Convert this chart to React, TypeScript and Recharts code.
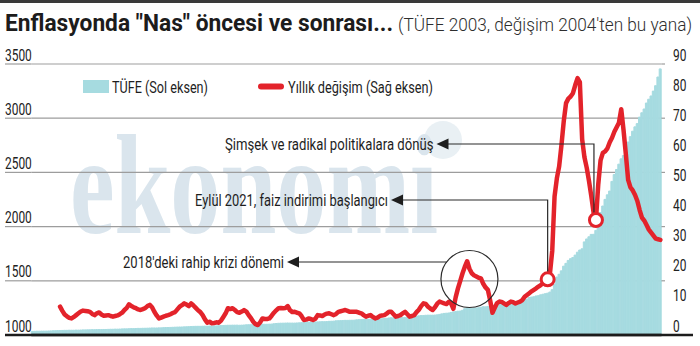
import { ComposedChart, Bar, Line, XAxis, YAxis, CartesianGrid, ReferenceDot } from "recharts";

// TÜFE (2003=100), monthly from Jan 2003 to Oct 2025
const tufe = [
  1033, 1034, 1035, 1035, 1036, 1036, 1036, 1037, 1038, 1039, 1040, 1041, // 2003
  1041, 1042, 1043, 1043, 1044, 1044, 1044, 1045, 1045, 1046, 1047, 1047, // 2004
  1048, 1048, 1049, 1049, 1050, 1050, 1050, 1051, 1051, 1052, 1053, 1053, // 2005
  1054, 1054, 1055, 1056, 1057, 1057, 1058, 1059, 1059, 1060, 1061, 1061, // 2006
  1062, 1062, 1063, 1064, 1065, 1065, 1065, 1066, 1066, 1068, 1069, 1069, // 2007
  1070, 1071, 1072, 1073, 1074, 1074, 1075, 1076, 1077, 1078, 1079, 1080, // 2008
  1080, 1080, 1081, 1082, 1082, 1083, 1083, 1083, 1084, 1086, 1087, 1087, // 2009
  1089, 1090, 1090, 1091, 1091, 1091, 1090, 1091, 1092, 1094, 1095, 1095, // 2010
  1096, 1096, 1096, 1097, 1100, 1099, 1099, 1100, 1101, 1104, 1106, 1108, // 2011
  1109, 1109, 1110, 1111, 1110, 1110, 1110, 1111, 1112, 1114, 1115, 1117, // 2012
  1119, 1119, 1120, 1120, 1121, 1122, 1123, 1123, 1124, 1126, 1127, 1128, // 2013
  1131, 1132, 1133, 1134, 1135, 1135, 1136, 1136, 1137, 1140, 1141, 1142, // 2014
  1144, 1145, 1146, 1147, 1148, 1148, 1148, 1149, 1150, 1152, 1154, 1157, // 2015
  1159, 1158, 1158, 1159, 1160, 1161, 1162, 1162, 1163, 1164, 1167, 1174, // 2016
  1177, 1179, 1180, 1182, 1183, 1183, 1183, 1184, 1186, 1190, 1195, 1199, // 2017
  1201, 1203, 1208, 1213, 1216, 1220, 1221, 1228, 1243, 1251, 1247, 1246, // 2018
  1249, 1249, 1252, 1256, 1261, 1260, 1263, 1267, 1270, 1276, 1277, 1280, // 2019
  1288, 1290, 1292, 1294, 1298, 1302, 1306, 1309, 1313, 1320, 1328, 1331, // 2020
  1346, 1350, 1353, 1360, 1363, 1371, 1376, 1381, 1386, 1396, 1418, 1470, // 2021
  1535, 1560, 1592, 1635, 1661, 1688, 1704, 1715, 1737, 1764, 1784, 1795, // 2022
  1859, 1886, 1906, 1928, 1929, 1965, 2040, 2130, 2190, 2251, 2293, 2328, // 2023
  2417, 2480, 2527, 2576, 2625, 2656, 2730, 2780, 2830, 2880, 2920, 2950, // 2024
  3010, 3050, 3085, 3140, 3175, 3205, 3250, 3300, 3380, 3455, // 2025
];

// yıllık değişim %, right axis, monthly from Jan 2004
const yillikDegisim = [
  9.4, 8.0, 6.8, 6.2, 5.7, 5.5, 6.0, 6.6, 7.2, 7.8, 8.1, 8.0, // 2004
  7.9, 7.7, 7.0, 6.6, 7.2, 7.5, 6.8, 6.4, 6.5, 6.6, 6.3, 6.1, // 2005
  6.3, 6.5, 6.9, 7.4, 8.3, 9.0, 10.2, 9.6, 9.2, 8.9, 8.5, 8.3, // 2006
  8.6, 8.9, 9.6, 10.0, 9.2, 7.7, 6.5, 5.5, 5.8, 6.1, 6.4, 6.6, // 2007
  6.9, 7.3, 7.6, 8.5, 9.4, 9.9, 10.5, 10.1, 9.6, 10.5, 9.8, 9.0, // 2008
  8.2, 7.6, 6.6, 5.2, 4.1, 4.4, 3.9, 4.0, 4.2, 4.1, 4.8, 6.0, // 2009
  7.2, 8.9, 8.6, 8.9, 8.3, 7.6, 7.4, 7.8, 8.3, 7.8, 6.6, 5.6, // 2010
  4.4, 3.6, 3.3, 4.2, 5.5, 5.3, 5.3, 5.5, 6.4, 7.4, 8.2, 8.9, // 2011
  9.0, 8.9, 9.0, 9.6, 8.2, 7.6, 7.7, 7.4, 7.2, 6.3, 5.0, 5.1, // 2012
  5.5, 5.3, 5.0, 5.4, 6.6, 6.5, 6.3, 6.8, 7.1, 7.2, 6.9, 6.6, // 2013
  7.0, 7.7, 7.9, 8.1, 8.3, 8.0, 7.7, 7.7, 7.7, 7.7, 7.4, 7.2, // 2014
  6.6, 6.1, 6.4, 6.6, 6.0, 5.5, 5.8, 6.3, 6.5, 6.6, 7.1, 7.7, // 2015
  7.7, 6.9, 6.1, 6.3, 6.6, 7.2, 7.7, 6.9, 6.1, 6.3, 6.6, 7.6, // 2016
  8.4, 9.6, 10.5, 10.3, 9.4, 8.8, 8.3, 9.2, 10.4, 11.1, 10.8, 10.5, // 2017
  10.3, 11.0, 10.5, 8.7, 12.5, 15.5, 18.0, 20.5, 22.7, 24.5, 22.0, 20.5, // 2018
  19.8, 19.4, 19.0, 18.8, 17.0, 15.8, 15.0, 11.5, 7.4, 9.0, 10.6, 11.1, // 2019
  11.0, 10.5, 10.0, 10.6, 11.1, 10.9, 10.5, 10.8, 11.1, 11.6, 12.7, 13.3, // 2020
  13.9, 14.5, 15.0, 15.5, 16.1, 16.6, 17.2, 17.8, 18.5, 20.5, 28.0, 46.0, // 2021
  52.0, 56.0, 63.0, 71.0, 77.0, 78.5, 79.2, 80.3, 83.0, 85.3, 84.0, 65.0, // 2022
  59.0, 55.5, 51.0, 46.0, 40.5, 38.2, 50.0, 58.0, 60.5, 61.0, 62.0, 64.0, // 2023
  65.5, 67.5, 69.0, 70.5, 75.0, 68.0, 60.0, 51.5, 49.0, 48.0, 46.5, 44.5, // 2024
  41.5, 39.0, 38.0, 36.5, 35.0, 34.0, 33.0, 32.0, 31.8, 31.6, // 2025
];

const solTikler = [1000, 1500, 2000, 2500, 3000, 3500];
const sagTikler = [0, 10, 20, 30, 40, 50, 60, 70, 80, 90];
const isaretliAylar = ["2021-09", "2023-06"];

const veri = tufe.map((t, i) => {
  const yil = 2003 + Math.floor(i / 12);
  const ay = String((i % 12) + 1).padStart(2, "0");
  return { ay: `${yil}-${ay}`, tufe: t, degisim: i >= 12 ? yillikDegisim[i - 12] : null };
});
const degisimAy = (ay: string) => veri.find((d) => d.ay === ay)!.degisim as number;

const YAZI = "Roboto, 'Noto Sans', sans-serif";
const KIRMIZI = "#e3232b";
const CAMGOBEGI = "#a6dbe0";
const IZGARA = "#9d9d9d";
const SOL = 31.3;
const SAG = 661.5;

function SolTik({ y, payload }: any) {
  const v = payload.value;
  const genislik = String(v).length * 6.7;
  return (
    <g>
      {v === 1000 ? (
        <line x1={5} x2={693} y1={y} y2={y} stroke="#1c1c1c" strokeWidth={2.6} />
      ) : (
        <>
          <line x1={5} x2={SOL} y1={y} y2={y} stroke={IZGARA} strokeWidth={1.2} />
          <line x1={SAG} x2={665} y1={y} y2={y} stroke={IZGARA} strokeWidth={1.2} />
        </>
      )}
      <text x={5} y={y - 3.5} fontFamily={YAZI} fontSize={17} fill="#222" textLength={genislik} lengthAdjust="spacingAndGlyphs">
        {v}
      </text>
    </g>
  );
}

function SagTik({ y, payload }: any) {
  const v = payload.value;
  const genislik = String(v).length * 6.7;
  return (
    <text x={673} y={y - 3.5} fontFamily={YAZI} fontSize={17} fill="#222" textLength={genislik} lengthAdjust="spacingAndGlyphs">
      {v}
    </text>
  );
}

function IsaretNoktasi(props: any) {
  const { cx, cy, payload, index } = props;
  if (!isaretliAylar.includes(payload.ay)) return <g key={index} />;
  return <circle key={index} cx={cx} cy={cy} r={6.5} fill="#fff" stroke={KIRMIZI} strokeWidth={3} />;
}

function Ok({ cx, cy, cizgiY, ucX, metin, metinBas }: any) {
  return (
    <g>
      <polyline points={`${cx},${cy} ${cx},${cizgiY} ${ucX + 11},${cizgiY}`} fill="none" stroke="#2a2a2a" strokeWidth={1.2} />
      <path d={`M${ucX},${cizgiY} L${ucX + 12},${cizgiY - 5.5} L${ucX + 12},${cizgiY + 5.5} Z`} fill="#1e1e1e" />
      <text x={metinBas} y={cizgiY + 6} fontFamily={YAZI} fontSize={17} fill="#1e1e1e" textLength={ucX - 3 - metinBas} lengthAdjust="spacingAndGlyphs">
        {metin}
      </text>
    </g>
  );
}

function Halka({ cx, cy, cizgiY, ucX, metin, metinBas }: any) {
  const r = 28.5;
  const kenar = cx - Math.sqrt(r * r - (cizgiY - cy) * (cizgiY - cy));
  return (
    <g>
      <circle cx={cx} cy={cy} r={r} fill="none" stroke="#2a2a2a" strokeWidth={1.2} />
      <line x1={kenar} x2={ucX + 11} y1={cizgiY} y2={cizgiY} stroke="#2a2a2a" strokeWidth={1.2} />
      <path d={`M${ucX},${cizgiY} L${ucX + 12},${cizgiY - 5.5} L${ucX + 12},${cizgiY + 5.5} Z`} fill="#1e1e1e" />
      <text x={metinBas} y={cizgiY + 6} fontFamily={YAZI} fontSize={17} fill="#1e1e1e" textLength={ucX - 3 - metinBas} lengthAdjust="spacingAndGlyphs">
        {metin}
      </text>
    </g>
  );
}

export default function App() {
  return (
    <div style={{ position: "absolute", left: 0, top: 0, width: 700, height: 346, background: "#fff", overflow: "hidden" }}>
      {/* watermark */}
      <svg width={700} height={346} style={{ position: "absolute", left: 0, top: 0 }}>
        <circle cx={443} cy={140} r={19} fill="#e9f0f4" />
        <text x={70} y={233} fontFamily="'Liberation Serif', 'DejaVu Serif', serif" fontWeight={700} fontSize={142} fill="#dae5ed" textLength={368} lengthAdjust="spacingAndGlyphs">
          ekonomi
        </text>
      </svg>

      <div style={{ position: "absolute", left: 0, top: 0 }}>
        <ComposedChart width={700} height={346} data={veri} margin={{ top: 64, right: 700 - SAG - 1, bottom: 10, left: SOL - 1 }} barCategoryGap={0} barGap={0}>
          <CartesianGrid yAxisId="sol" vertical={false} stroke={IZGARA} strokeWidth={1.2} />
          <XAxis dataKey="ay" height={1} tick={false} tickLine={false} axisLine={{ stroke: "#1c1c1c", strokeWidth: 2.6 }} />
          <YAxis yAxisId="sol" domain={[1000, 3500]} ticks={solTikler} interval={0} width={1} axisLine={false} tickLine={false} tick={<SolTik />} allowDataOverflow />
          <YAxis yAxisId="sag" orientation="right" domain={[0, 90]} ticks={sagTikler} interval={0} width={1} axisLine={false} tickLine={false} tick={<SagTik />} />
          <Bar yAxisId="sol" dataKey="tufe" fill={CAMGOBEGI} stroke={CAMGOBEGI} strokeWidth={1} isAnimationActive={false} />
          <ReferenceDot
            yAxisId="sag"
            x="2018-11"
            y={18.6}
            shape={(p: any) => <Halka cx={p.cx} cy={p.cy} cizgiY={262} ucX={287} metinBas={123} metin="2018'deki rahip krizi dönemi" />}
          />
          <ReferenceDot
            yAxisId="sag"
            x="2021-09"
            y={degisimAy("2021-09")}
            shape={(p: any) => <Ok cx={p.cx} cy={p.cy} cizgiY={200} ucX={391} metinBas={195} metin="Eylül 2021, faiz indirimi başlangıcı" />}
          />
          <ReferenceDot
            yAxisId="sag"
            x="2023-06"
            y={degisimAy("2023-06")}
            shape={(p: any) => <Ok cx={p.cx - 2} cy={p.cy} cizgiY={144} ucX={436.5} metinBas={225} metin="Şimşek ve radikal politikalara dönüş" />}
          />
          <Line
            yAxisId="sag"
            dataKey="degisim"
            stroke={KIRMIZI}
            strokeWidth={4.5}
            strokeLinejoin="round"
            strokeLinecap="round"
            dot={IsaretNoktasi}
            activeDot={false}
            isAnimationActive={false}
          />
        </ComposedChart>
      </div>

      {/* header and legend */}
      <svg width={700} height={100} style={{ position: "absolute", left: 0, top: 0, pointerEvents: "none" }}>
        <rect x={0} y={0} width={700} height={3} fill="#3a3a3a" />
        <text x={5} y={31} fontFamily={YAZI} fontWeight={700} fontSize={23} fill="#1c1c1c" textLength={388} lengthAdjust="spacingAndGlyphs">
          Enflasyonda "Nas" öncesi ve sonrası...
        </text>
        <text x={398} y={31} fontFamily={YAZI} fontWeight={300} fontSize={17.5} fill="#2e2e2e" textLength={294} lengthAdjust="spacingAndGlyphs">
          (TÜFE 2003, değişim 2004'ten bu yana)
        </text>
        <rect x={83} y={80} width={26} height={13} fill={CAMGOBEGI} />
        <text x={112} y={92.7} fontFamily={YAZI} fontSize={17} fill="#1e1e1e" textLength={96} lengthAdjust="spacingAndGlyphs">
          TÜFE (Sol eksen)
        </text>
        <line x1={261} x2={281} y1={86.5} y2={86.5} stroke={KIRMIZI} strokeWidth={6} strokeLinecap="round" />
        <text x={288} y={92.7} fontFamily={YAZI} fontSize={17} fill="#1e1e1e" textLength={145} lengthAdjust="spacingAndGlyphs">
          Yıllık değişim (Sağ eksen)
        </text>
      </svg>
    </div>
  );
}
